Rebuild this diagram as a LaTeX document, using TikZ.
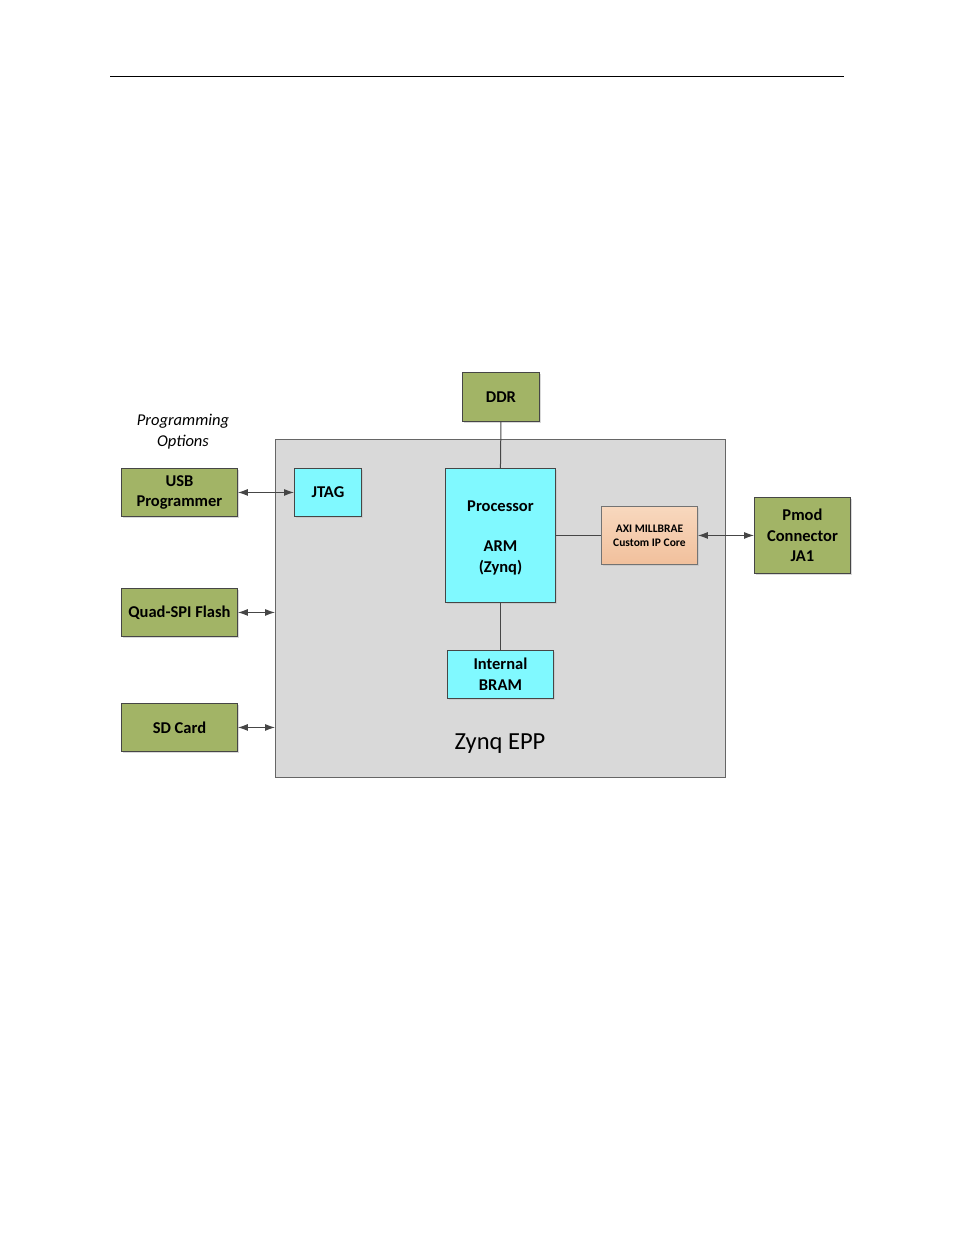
\documentclass[tikz,border=0pt]{standalone}
\usepackage{fontspec}
\setmainfont{Carlito}
\usetikzlibrary{arrows.meta,shadows}
\definecolor{grn}{RGB}{162,180,102}
\definecolor{cyn}{RGB}{128,249,255}
\definecolor{zgray}{RGB}{217,217,217}
\definecolor{peachA}{RGB}{248,216,190}
\definecolor{peachB}{RGB}{241,192,156}
\definecolor{edge}{RGB}{70,70,70}
\begin{document}
\begin{tikzpicture}[x=1pt,y=-1pt,
  box/.style={draw=edge,line width=0.9pt,inner sep=0pt,anchor=north west,align=center,
    font=\fontsize{16.5}{20.5}\selectfont\bfseries,
    drop shadow={shadow xshift=1.5pt,shadow yshift=-1.5pt,fill=black!25,opacity=0.6}},
  grnbox/.style={box,fill=grn},
  cynbox/.style={box,fill=cyn},
  conn/.style={draw=edge,line width=1pt},
  dbl/.style={conn,{Latex[length=10pt,width=7pt]}-{Latex[length=10pt,width=7pt]}}]
\useasboundingbox (0,0) rectangle (954,1235);
\draw[line width=0.8pt] (110,76) coordinate (tl) -- (844,76) coordinate (tr);
% Zynq outer box
\node[draw=black!60,line width=0.9pt,fill=zgray,anchor=north west,minimum width=450pt,minimum height=338pt,inner sep=0pt] (zynq) at (275,439) {};
\node[font=\fontsize{24.5}{28}\selectfont] (zlabel) at (500,743.5) {Zynq EPP};
% programming options label
\node[font=\fontsize{16.5}{21}\selectfont\itshape,align=center] (prog) at (183,432) {Programming\\Options};
% green boxes
\node[grnbox,minimum width=77pt,minimum height=49pt] (ddr) at (462,372) {DDR};
\node[grnbox,minimum width=116pt,minimum height=48pt] (usb) at (121,468) {USB\\Programmer};
\node[grnbox,minimum width=116pt,minimum height=48pt] (qspi) at (121,588) {Quad-SPI Flash};
\node[grnbox,minimum width=116pt,minimum height=48pt] (sd) at (121,703) {SD Card};
\node[grnbox,minimum width=96pt,minimum height=76pt] (pmod) at (754,497) {Pmod\\Connector\\JA1};
% cyan boxes
\node[cynbox,minimum width=67pt,minimum height=48pt] (jtag) at (294,468) {JTAG};
\node[cynbox,minimum width=110pt,minimum height=134pt] (proc) at (445,468) {};
\node[font=\fontsize{16.5}{20.5}\selectfont\bfseries,align=center] (proctext) at ([yshift=-2pt]proc.center) {Processor\\[20pt]ARM\\(Zynq)};
\node[cynbox,minimum width=106pt,minimum height=48pt] (bram) at (447,650) {Internal\\BRAM};
% AXI core
\node[box,top color=peachA,bottom color=peachB,minimum width=96pt,minimum height=58pt,
  font=\fontsize{11.5}{14}\selectfont\bfseries,draw=black!55] (axi) at (601,506) {AXI MILLBRAE\\Custom IP Core};
% connectors
\draw[conn] (ddr.south) -- (proc.north);
\draw[conn] (proc.south) -- (bram.north);
\draw[conn] (proc.east |- axi.west) -- (axi.west);
\draw[dbl] (usb.east) -- (jtag.west);
\draw[dbl] (qspi.east) -- (qspi.east -| zynq.west);
\draw[dbl] (sd.east) -- (sd.east -| zynq.west);
\draw[dbl] (axi.east) -- (axi.east -| pmod.west);
\end{tikzpicture}
\end{document}
